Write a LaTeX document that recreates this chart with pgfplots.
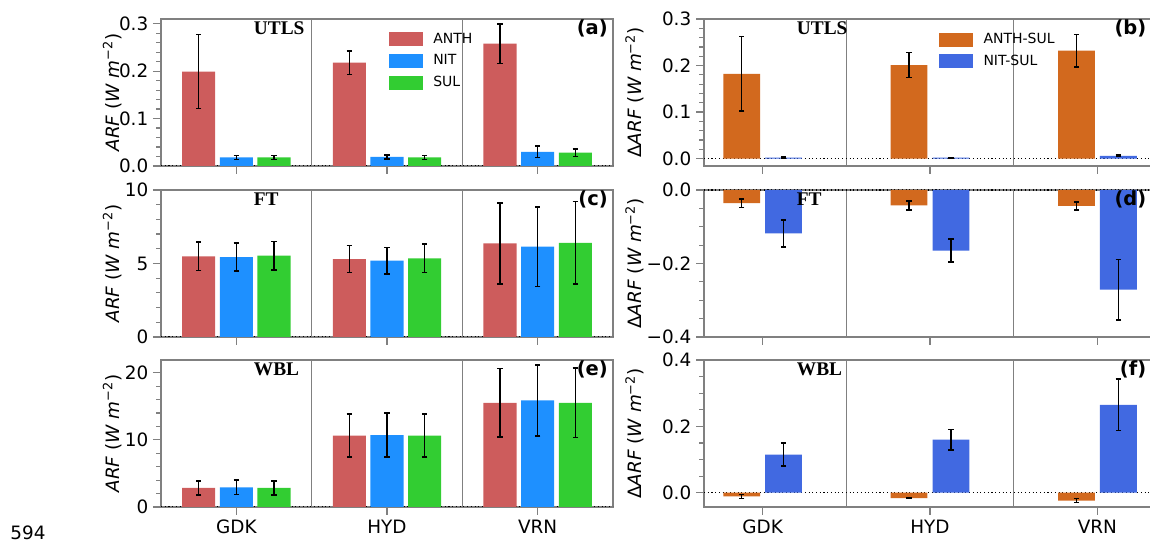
\documentclass[border=0pt]{standalone}
\usepackage{fontspec}
\setmainfont{DejaVu Sans}
\newfontfamily\tnr{Liberation Serif}
\usepackage{pgfplots}
\pgfplotsset{compat=1.18}
\definecolor{anth}{HTML}{CD5C5C}
\definecolor{nit}{HTML}{1E90FF}
\definecolor{sul}{HTML}{32CD32}
\definecolor{anthsul}{HTML}{D2691E}
\definecolor{nitsul}{HTML}{4169E1}
\definecolor{framegray}{HTML}{808080}
\pgfplotsset{
  panel/.style={
    scale only axis, width=339pt, height=110.25pt,
    axis line style={framegray, line width=0.9pt},
    every tick/.style={framegray, line width=0.9pt},
    tick align=outside, major tick length=6pt, minor tick length=3.5pt,
    xtick={0,1,2}, xticklabels={}, xtick pos=left, ytick pos=left,
    tick label style={font=\fontsize{13.8}{16}\selectfont},
    /pgf/number format/assume math mode=true,
    clip=true,
  },
  leftpanel/.style={panel, xmin=-0.5, xmax=2.5,
    ylabel style={at={(axis description cs:-0.108,0.5)}, anchor=center, font=\fontsize{13.8}{16}\selectfont},
    ylabel={\textit{ARF} (\textit{W m}\textsuperscript{−2})}},
  rightpanel/.style={panel, xmin=-0.35, xmax=2.35,
    ylabel style={at={(axis description cs:-0.153,0.5)}, anchor=center, font=\fontsize{13.8}{16}\selectfont},
    ylabel={Δ\textit{ARF} (\textit{W m}\textsuperscript{−2})}},
  bars/.style={ybar, bar width=0.22, bar shift=0pt, fill=#1, draw=none, forget plot,
    error bars/y dir=both, error bars/y explicit,
    error bars/error bar style={black, line width=1.2pt},
    error bars/error mark options={black, line width=1.2pt, mark size=2pt, rotate=90}},
  leg/.style={legend style={at={(rel axis cs:#1,0.915)}, anchor=north west, draw=none, fill=none,
    inner sep=0pt, row sep=5pt, font=\fontsize{10.5}{12}\selectfont,
    nodes={inner sep=1pt, anchor=west}, /tikz/every odd column/.append style={column sep=7pt}},
    legend cell align=left},
}
\newcommand{\patch}[1]{\addlegendimage{legend image code/.code={\fill[#1] (0pt,-4.875pt) rectangle (24.75pt,4.875pt);}}}
\newcommand{\seps}{%
  \draw[framegray, line width=0.9pt] ({rel axis cs:0,0} -| {axis cs:0.5,0}) -- ({rel axis cs:0,1} -| {axis cs:0.5,0});
  \draw[framegray, line width=0.9pt] ({rel axis cs:0,0} -| {axis cs:1.5,0}) -- ({rel axis cs:0,1} -| {axis cs:1.5,0});
  \draw[black, dotted, line width=0.8pt] ({rel axis cs:0,0} |- {axis cs:0,0}) -- ({rel axis cs:1,0} |- {axis cs:0,0});}
\newcommand{\region}[1]{\node[anchor=base west, inner sep=0pt, font=\tnr\bfseries\fontsize{14.5}{16}\selectfont] at (rel axis cs:0.205,0.895) {#1};}
\newcommand{\plabel}[2]{\node[anchor=north east, inner sep=0pt, font=\bfseries\fontsize{14.6}{16}\selectfont] at (rel axis cs:#1,0.995) {#2};}
\begin{document}
\begin{tikzpicture}
% ---------- (a)
\begin{axis}[leftpanel, at={(120.75pt,394.5pt)}, anchor=north west,
  ymin=0, ymax=0.31, ytick={0,0.1,0.2,0.3}, yticklabels={0.0,0.1,0.2,0.3},
  minor ytick={0.02,0.04,0.06,0.08,0.12,0.14,0.16,0.18,0.22,0.24,0.26,0.28}, leg=0.504]
\seps
\addplot[bars=anth] table[x=x,y=y,y error=e] {
x y e
-0.25 0.199 0.078
0.75 0.218 0.025
1.75 0.258 0.042
};
\addplot[bars=nit] table[x=x,y=y,y error=e] {
x y e
0 0.018 0.004
1 0.019 0.004
2 0.030 0.012
};
\addplot[bars=sul] table[x=x,y=y,y error=e] {
x y e
0.25 0.018 0.004
1.25 0.018 0.004
2.25 0.028 0.008
};
\patch{anth}\addlegendentry{ANTH}
\patch{nit}\addlegendentry{NIT}
\patch{sul}\addlegendentry{SUL}
\region{UTLS}
\plabel{0.989}{(a)}
\end{axis}
% ---------- (c)
\begin{axis}[leftpanel, at={(120.75pt,266.25pt)}, anchor=north west,
  ymin=0, ymax=10, ytick={0,5,10}, yticklabels={0,5,10}, minor ytick={1,2,3,4,6,7,8,9}]
\seps
\addplot[bars=anth] table[x=x,y=y,y error=e] {
x y e
-0.25 5.49 0.97
0.75 5.30 0.92
1.75 6.37 2.75
};
\addplot[bars=nit] table[x=x,y=y,y error=e] {
x y e
0 5.44 0.97
1 5.19 0.90
2 6.14 2.70
};
\addplot[bars=sul] table[x=x,y=y,y error=e] {
x y e
0.25 5.53 0.96
1.25 5.35 0.96
2.25 6.41 2.80
};
\region{FT}
\plabel{0.989}{(c)}
\end{axis}
% ---------- (e)
\begin{axis}[leftpanel, at={(120.75pt,138.75pt)}, anchor=north west,
  ymin=0, ymax=21.9, ytick={0,10,20}, yticklabels={0,10,20}, minor ytick={2,4,6,8,12,14,16,18},
  xticklabels={GDK,HYD,VRN}]
\seps
\addplot[bars=anth] table[x=x,y=y,y error=e] {
x y e
-0.25 2.83 1.00
0.75 10.62 3.20
1.75 15.53 5.10
};
\addplot[bars=nit] table[x=x,y=y,y error=e] {
x y e
0 2.93 1.05
1 10.72 3.30
2 15.88 5.30
};
\addplot[bars=sul] table[x=x,y=y,y error=e] {
x y e
0.25 2.83 1.00
1.25 10.62 3.20
2.25 15.53 5.20
};
\region{WBL}
\plabel{0.989}{(e)}
\end{axis}
% ---------- (b)
\begin{axis}[rightpanel, at={(528pt,394.5pt)}, anchor=north west,
  ymin=-0.016, ymax=0.3, ytick={0,0.1,0.2,0.3}, yticklabels={0.0,0.1,0.2,0.3},
  minor ytick={0.02,0.04,0.06,0.08,0.12,0.14,0.16,0.18,0.22,0.24,0.26,0.28}, leg=0.52]
\seps
\addplot[bars=anthsul] table[x=x,y=y,y error=e] {
x y e
-0.125 0.182 0.080
0.875 0.201 0.027
1.875 0.232 0.035
};
\addplot[bars=nitsul] table[x=x,y=y,y error=e] {
x y e
0.125 0.002 0.001
1.125 0.002 0.0005
2.125 0.006 0.002
};
\patch{anthsul}\addlegendentry{ANTH-SUL}
\patch{nitsul}\addlegendentry{NIT-SUL}
\region{UTLS}
\plabel{0.979}{(b)}
\end{axis}
% ---------- (d)
\begin{axis}[rightpanel, at={(528pt,266.25pt)}, anchor=north west,
  ymin=-0.4, ymax=0, ytick={-0.4,-0.2,0}, yticklabels={−0.4,−0.2,0.0},
  minor ytick={-0.35,-0.3,-0.25,-0.15,-0.1,-0.05}]
\seps
\addplot[bars=anthsul] table[x=x,y=y,y error=e] {
x y e
-0.125 -0.036 0.012
0.875 -0.042 0.012
1.875 -0.043 0.011
};
\addplot[bars=nitsul] table[x=x,y=y,y error=e] {
x y e
0.125 -0.118 0.037
1.125 -0.165 0.031
2.125 -0.271 0.082
};
\region{FT}
\plabel{0.979}{(d)}
\end{axis}
% ---------- (f)
\begin{axis}[rightpanel, at={(528pt,138.75pt)}, anchor=north west,
  ymin=-0.043, ymax=0.4, ytick={0,0.2,0.4}, yticklabels={0.0,0.2,0.4},
  minor ytick={0.05,0.1,0.15,0.25,0.3,0.35}, xticklabels={GDK,HYD,VRN}]
\seps
\addplot[bars=anthsul] table[x=x,y=y,y error=e] {
x y e
-0.125 -0.011 0.006
0.875 -0.016 0.002
1.875 -0.024 0.006
};
\addplot[bars=nitsul] table[x=x,y=y,y error=e] {
x y e
0.125 0.115 0.035
1.125 0.160 0.031
2.125 0.265 0.077
};
\region{WBL}
\plabel{0.979}{(f)}
\end{axis}
\node[font=\fontsize{13.8}{16}\selectfont, inner sep=0pt] at (21pt,9pt) {594};
\pgfresetboundingbox
\path[use as bounding box] (0,0) rectangle (862.5pt,408.75pt);
\end{tikzpicture}
\end{document}
